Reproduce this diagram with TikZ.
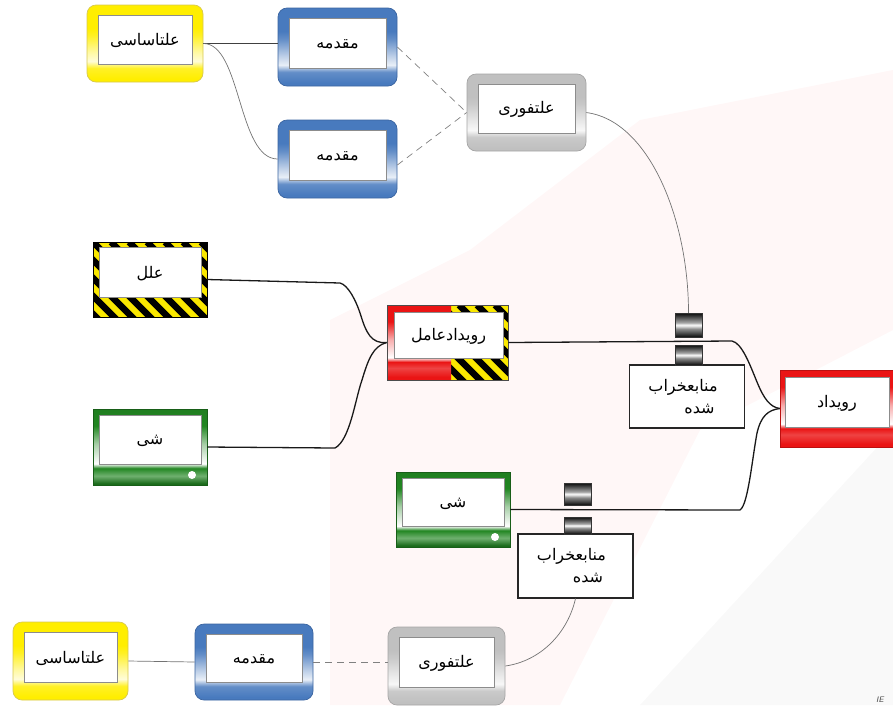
\documentclass[tikz,border=0pt]{standalone}
\usepackage{fontspec}
\newfontfamily\fafont[Script=Arabic]{DejaVu Sans}
\TeXXeTstate=1
\newcommand{\fa}[1]{{\fafont\beginR #1\endR}}

\definecolor{cYel}{RGB}{255,238,0}
\definecolor{cYelEdge}{RGB}{215,200,80}
\definecolor{cBlu}{RGB}{72,122,190}
\definecolor{cBluEdge}{RGB}{58,100,160}
\definecolor{cGry}{RGB}{192,192,192}
\definecolor{cGryEdge}{RGB}{165,165,165}
\definecolor{cGrn}{RGB}{34,134,34}
\definecolor{cRed}{RGB}{234,20,20}
\definecolor{cHaz}{RGB}{250,232,0}

% frame shadings: the path spans 25bp (bottom) to 75bp (top)
\pgfdeclareverticalshading{yelsh}{100bp}{color(0bp)=(cYel); color(27bp)=(cYel); color(34bp)=(cYel!85!white); color(38.5bp)=(cYel!15!white); color(44bp)=(cYel!35!white); color(55bp)=(cYel!85!white); color(60bp)=(cYel); color(100bp)=(cYel)}
\pgfdeclareverticalshading{blush}{100bp}{color(0bp)=(cBlu); color(27bp)=(cBlu); color(34bp)=(cBlu!85!white); color(38.5bp)=(cBlu!12!white); color(44bp)=(cBlu!35!white); color(55bp)=(cBlu!85!white); color(60bp)=(cBlu); color(100bp)=(cBlu)}
\pgfdeclareverticalshading{grysh}{100bp}{color(0bp)=(cGry); color(27bp)=(cGry); color(34bp)=(cGry!85!white); color(38.5bp)=(cGry!12!white); color(44bp)=(cGry!35!white); color(55bp)=(cGry!85!white); color(60bp)=(cGry); color(100bp)=(cGry)}
\pgfdeclareverticalshading{grnsh}{100bp}{color(0bp)=(cGrn!80!black); color(26bp)=(cGrn!80!black); color(31bp)=(cGrn!65!white); color(36bp)=(cGrn); color(39bp)=(white); color(52bp)=(cGrn!40!white); color(64bp)=(cGrn); color(100bp)=(cGrn!80!black)}
\pgfdeclareverticalshading{redsh}{100bp}{color(0bp)=(cRed); color(27bp)=(cRed); color(33bp)=(cRed!80!white); color(37bp)=(cRed); color(40bp)=(white); color(52bp)=(cRed!35!white); color(64bp)=(cRed); color(100bp)=(cRed)}
\pgfdeclareverticalshading{cylsh}{100bp}{color(0bp)=(black!90); color(27bp)=(black!90); color(42bp)=(black!45); color(50bp)=(white); color(55bp)=(black!35); color(73bp)=(black!90); color(100bp)=(black!90)}

\tikzset{
  x=1pt, y=-1pt,
  innerwhite/.style={fill=white, draw=black!45, line width=0.5pt, sharp corners},
  roundbox/.style 2 args={shade, shading=#1, draw=#2, line width=0.7pt,
    rounded corners=9pt, inner sep=0pt,
    path picture={\draw[innerwhite]
      ([xshift=11pt,yshift=18pt]path picture bounding box.south west) rectangle
      ([xshift=-11pt,yshift=-10pt]path picture bounding box.north east);}},
  grnbox/.style={shade, shading=grnsh, draw=cGrn!70!black, line width=0.5pt, inner sep=0pt,
    path picture={\draw[innerwhite]
      ([xshift=6pt,yshift=21pt]path picture bounding box.south west) rectangle
      ([xshift=-6pt,yshift=-6pt]path picture bounding box.north east);
      \fill[white] ([xshift=-15pt,yshift=10pt]path picture bounding box.south east) circle[radius=4pt];}},
  redbox/.style={shade, shading=redsh, draw=cRed!80!black, line width=0.5pt, inner sep=0pt,
    path picture={\draw[innerwhite]
      ([xshift=5pt,yshift=20pt]path picture bounding box.south west) rectangle
      ([xshift=-5pt,yshift=-7pt]path picture bounding box.north east);}},
  hazbox/.style={fill=cHaz, draw=black, line width=0.6pt, inner sep=0pt,
    path picture={
      \foreach \k in {-6,...,9}
        \draw[black, line width=6.5pt] ([xshift=\k*18pt]path picture bounding box.north west) -- ++(110pt,-110pt);
      \draw[innerwhite]
        ([xshift=6pt,yshift=20pt]path picture bounding box.south west) rectangle
        ([xshift=-6pt,yshift=-5pt]path picture bounding box.north east);}},
  splitbox/.style={fill=cHaz, draw=black!70, line width=0.6pt, inner sep=0pt,
    path picture={
      \foreach \k in {-6,...,9}
        \draw[black, line width=6.5pt] ([xshift=\k*18pt]path picture bounding box.north west) -- ++(110pt,-110pt);
      \shade[shading=redsh] (path picture bounding box.south west) rectangle
        ([xshift=64pt]path picture bounding box.north west);
      \draw[innerwhite]
        ([xshift=7pt,yshift=22pt]path picture bounding box.south west) rectangle
        ([xshift=-5pt,yshift=-7pt]path picture bounding box.north east);}},
  plainbox/.style={fill=white, draw=black!85, line width=1.1pt, inner sep=0pt,
    minimum width=115pt, minimum height=63pt},
  cyl/.style={shade, shading=cylsh, draw=black!80, line width=0.5pt, inner sep=0pt, minimum width=27pt},
  lbl/.style={font=\fontsize{16}{18}\selectfont, inner sep=0pt},
  lbltwo/.style={font=\fontsize{16}{22}\selectfont, inner sep=0pt, align=right},
  thinlink/.style={draw=black!75, line width=0.8pt},
  curvelink/.style={draw=black!55, line width=0.7pt},
  dashlink/.style={draw=black!50, line width=0.7pt, dash pattern=on 7pt off 5pt},
  bracelink/.style={draw=black!90, line width=1.3pt, line join=round},
}

\begin{document}
\begin{tikzpicture}
\useasboundingbox (0,0) rectangle (893,705);
\clip (0,0) rectangle (893,705);

% faint background logo
\fill[red!3] (330,705) -- (330,320) -- (470,250) -- (640,120) -- (893,70) -- (893,330) -- (700,430) -- (560,705) -- cycle;
\fill[black!2.5] (640,705) -- (893,430) -- (893,705) -- cycle;
\node[font=\sffamily\itshape\fontsize{8}{8}\selectfont, text=black!70, anchor=south west, inner sep=0pt] (ie) at (876,703) {IE};

% upper cause chain
\node[roundbox={yelsh}{cYelEdge}, minimum width=116pt, minimum height=77pt] (yA) at (145,43.5) {};
\node[lbl] (yA-t) at ([yshift=3pt]yA.center) {\fa{علتاساسی}};
\node[roundbox={blush}{cBluEdge}, minimum width=119pt, minimum height=78pt] (bA) at (337.5,47) {};
\node[lbl] (bA-t) at ([yshift=3pt]bA.center) {\fa{مقدمه}};
\node[roundbox={blush}{cBluEdge}, minimum width=119pt, minimum height=78pt] (bB) at (337.5,159) {};
\node[lbl] (bB-t) at ([yshift=3pt]bB.center) {\fa{مقدمه}};
\node[roundbox={grysh}{cGryEdge}, minimum width=119pt, minimum height=77pt] (gA) at (526.5,112.5) {};
\node[lbl] (gA-t) at ([yshift=3pt]gA.center) {\fa{علتفوری}};

% agent and object
\node[hazbox, minimum width=114pt, minimum height=75pt] (hz) at (150,279.5) {};
\node[lbl] (hz-t) at ([yshift=6pt]hz.center) {\fa{علل}};
\node[grnbox, minimum width=114pt, minimum height=76pt] (grA) at (150,447) {};
\node[lbl] (grA-t) at ([yshift=6pt]grA.center) {\fa{شی}};
\node[splitbox, minimum width=121pt, minimum height=75pt] (re) at (447.5,342.5) {};
\node[lbl] (re-t) at ([xshift=1pt,yshift=6pt]re.center) {\fa{رویدادعامل}};

% event
\node[redbox, minimum width=114pt, minimum height=77pt] (ev) at (837,408.5) {};
\node[lbl] (ev-t) at ([yshift=5pt]ev.center) {\fa{رویداد}};

% damaged resources with their couplings
\node[plainbox] (mA) at (687,396.5) {};
\node[lbltwo] (mA-t) at ([xshift=-4pt]mA.center) {\fa{منابعخراب}\\\fa{شده}\hspace*{3pt}};
\node[cyl, minimum height=24pt] (cA1) at (688.5,325) {};
\node[cyl, minimum height=20pt] (cA2) at (688.5,355) {};
\node[grnbox, minimum width=114pt, minimum height=75pt] (grB) at (453,509.5) {};
\node[lbl] (grB-t) at ([yshift=6pt]grB.center) {\fa{شی}};
\node[plainbox, minimum height=64pt] (mB) at (575.5,566) {};
\node[lbltwo] (mB-t) at ([xshift=-4pt]mB.center) {\fa{منابعخراب}\\\fa{شده}\hspace*{3pt}};
\node[cyl, minimum height=22pt] (cB1) at (577.5,494) {};
\node[cyl, minimum height=17pt] (cB2) at (577.5,525.5) {};

% lower cause chain
\node[roundbox={yelsh}{cYelEdge}, minimum width=115pt, minimum height=78pt] (yB) at (70.5,661) {};
\node[lbl] (yB-t) at ([yshift=3pt]yB.center) {\fa{علتاساسی}};
\node[roundbox={blush}{cBluEdge}, minimum width=118pt, minimum height=76pt] (bC) at (254,662) {};
\node[lbl] (bC-t) at ([yshift=3pt]bC.center) {\fa{مقدمه}};
\node[roundbox={grysh}{cGryEdge}, minimum width=117pt, minimum height=78pt] (gB) at (446.5,666) {};
\node[lbl] (gB-t) at ([yshift=3pt]gB.center) {\fa{علتفوری}};

% connectors, upper chain
\draw[thinlink] (yA.east) -- (bA.west |- yA.east);
\draw[curvelink] (yA.east) .. controls +(38,0) and +(-40,0) .. (bB.west);
\draw[dashlink] (bA.east) -- (gA.west);
\draw[dashlink] ([yshift=-6pt]bB.east) -- (gA.west);
\draw[curvelink] (gA.east) .. controls +(62,8) and +(0,-95) .. (cA1.north);

% braces into the agent event and the event
\draw[bracelink] (hz.east) -- (340,283)
  .. controls (348,285) and (356,300) .. (361,316)
  .. controls (366,332) and (371,344) .. (re.west);
\draw[bracelink] (grA.east) -- (335,448)
  .. controls (350,440) and (355,400) .. (362,380)
  .. controls (368,360) and (373,346) .. (re.west);
\draw[bracelink] (re.east) -- (732,341)
  .. controls (742,343) and (750,365) .. (757,382)
  .. controls (764,399) and (770,407) .. (ev.west);
\draw[bracelink] (grB.east) -- (740,510)
  .. controls (748,505) and (752,460) .. (757,433)
  .. controls (761,416) and (768,410) .. (ev.west);

% connectors, lower chain
\draw[curvelink] (mB.south) .. controls +(-8,35) and +(35,-5) .. (gB.east);
\draw[curvelink] (yB.east) -- (bC.west);
\draw[dashlink] (bC.east) -- (bC.east -| gB.west);
\end{tikzpicture}
\end{document}
